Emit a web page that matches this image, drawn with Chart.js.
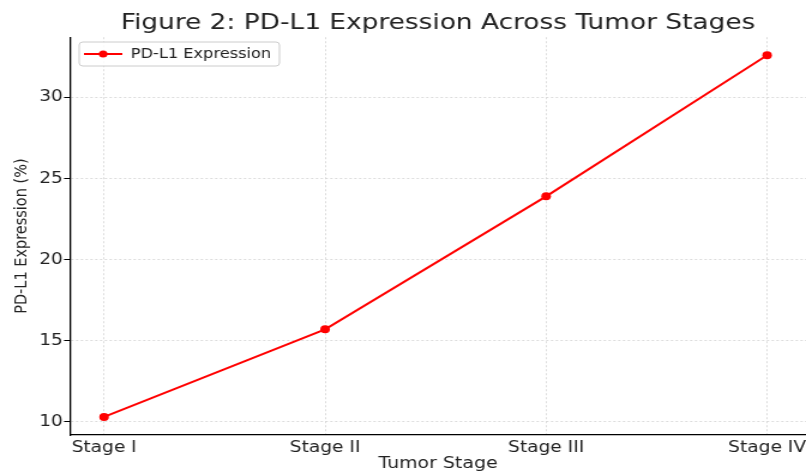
<!DOCTYPE html>
<html>
<head>
<meta charset="utf-8">
<script src="https://cdn.jsdelivr.net/npm/chart.js@4/dist/chart.umd.min.js"></script>
<style>
  html, body { margin: 0; padding: 0; background: #fff; overflow: hidden; }
  #wrap { width: 672px; height: 473px; transform: scaleX(1.19940476); transform-origin: 0 0; }
</style>
</head>
<body>
<div id="wrap"><canvas id="c" width="672" height="473"></canvas></div>
<script>
const chartTitle = 'Figure 2: PD-L1 Expression Across Tumor Stages';
const categories = ['Stage I', 'Stage II', 'Stage III', 'Stage IV'];
const expression = [10.3, 15.7, 23.9, 32.6];
const seriesLabel = 'PD-L1 Expression';
const yTicks = [10, 15, 20, 25, 30];
const xTitle = 'Tumor Stage';
const yTitle = 'PD-L1 Expression (%)';

const FONT = 'DejaVu Sans';
const TXT = '#222';

const legendBox = {
  id: 'legendBox',
  afterDraw(chart) {
    const ctx = chart.ctx;
    const ds = chart.data.datasets[0];
    ctx.save();
    ctx.beginPath();
    ctx.roundRect(66, 42, 167, 24, 3);
    ctx.fillStyle = 'rgba(255,255,255,0.85)';
    ctx.fill();
    ctx.lineWidth = 1;
    ctx.strokeStyle = '#cccccc';
    ctx.stroke();
    ctx.beginPath();
    ctx.moveTo(70, 54); ctx.lineTo(102, 54);
    ctx.lineWidth = 2; ctx.strokeStyle = ds.borderColor; ctx.stroke();
    ctx.beginPath();
    ctx.arc(86, 54, 3.6, 0, Math.PI * 2);
    ctx.fillStyle = ds.backgroundColor; ctx.fill();
    ctx.font = '13.5px "' + FONT + '"';
    ctx.fillStyle = TXT;
    ctx.textBaseline = 'middle';
    ctx.textAlign = 'left';
    ctx.fillText(ds.label, 109, 54);
    ctx.restore();
  }
};

new Chart(document.getElementById('c'), {
  type: 'line',
  data: {
    datasets: [{
      label: seriesLabel,
      data: categories.map((c, i) => ({ x: i, y: expression[i] })),
      borderColor: '#ff0000',
      backgroundColor: '#ff0000',
      borderWidth: 2,
      pointRadius: 4,
      pointBorderWidth: 0,
      pointBackgroundColor: '#ff0000',
      tension: 0
    }]
  },
  options: {
    responsive: false,
    animation: false,
    layout: { padding: 0, autoPadding: false },
    plugins: {
      legend: { display: false },
      tooltip: { enabled: false },
      title: {
        display: true,
        text: chartTitle,
        fullSize: false,
        color: TXT,
        font: { family: FONT, size: 22, weight: 'normal' },
        padding: { top: 10, bottom: 0.8 }
      }
    },
    scales: {
      x: {
        type: 'linear',
        min: -0.154,
        max: 3.176,
        afterBuildTicks: s => { s.ticks = categories.map((c, i) => ({ value: i })); },
        afterFit: s => { s.height = 38; s.paddingLeft = 0; s.paddingRight = 0; },
        ticks: {
          callback: v => categories[v],
          color: TXT,
          font: { family: FONT, size: 15.5 },
          padding: 4,
          maxRotation: 0,
          autoSkip: false
        },
        grid: { color: '#d4d4d4', lineWidth: 0.8, drawTicks: false },
        border: { color: '#000', width: 1.3, dash: [2, 2] },
        title: {
          display: true, text: xTitle, color: TXT,
          font: { family: FONT, size: 15.8 },
          padding: { top: 0, bottom: 0 }
        }
      },
      y: {
        type: 'linear',
        min: 9.185,
        max: 33.715,
        afterBuildTicks: s => { s.ticks = yTicks.map(v => ({ value: v })); },
        afterFit: s => { s.width = 58.4; s.paddingTop = 0; s.paddingBottom = 0; },
        ticks: {
          color: TXT,
          font: { family: FONT, size: 15.5 },
          padding: 1
        },
        grid: { color: '#d4d4d4', lineWidth: 0.8, drawTicks: true, tickLength: 5, tickColor: '#000', tickWidth: 1 },
        border: { color: '#000', width: 1.3, dash: [2, 2] },
        title: {
          display: true, text: yTitle, color: TXT,
          font: { family: FONT, size: 14.5 },
          padding: { top: 10, bottom: 0 }
        }
      }
    }
  },
  plugins: [legendBox]
});
</script>
</body>
</html>
